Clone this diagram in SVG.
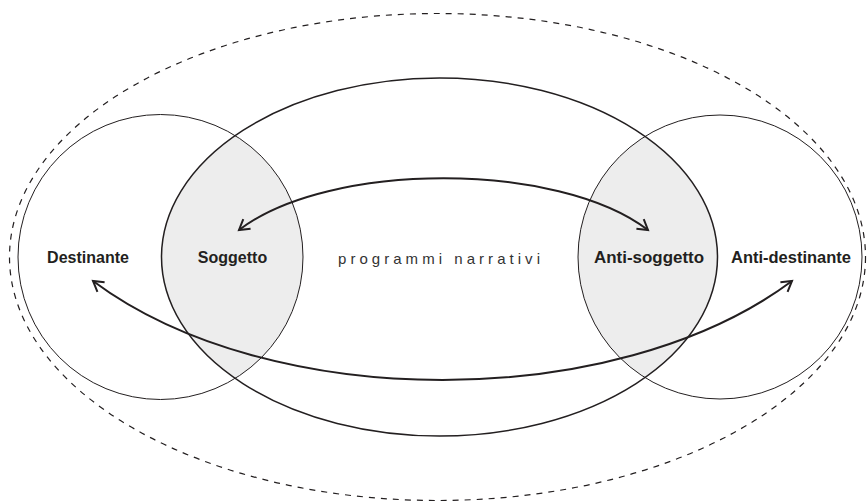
<svg xmlns="http://www.w3.org/2000/svg" width="867" height="502" viewBox="0 0 867 502">
  <style>
    .lbl { font-family: "Liberation Sans", Arial, sans-serif; font-weight: bold; font-size: 16px; fill: #231f20; text-anchor: middle; }
    .pn { font-family: "Liberation Sans", Arial, sans-serif; font-size: 15px; fill: #333333; }
    .outline { fill: none; stroke: #231f20; }
    .conn { fill: none; stroke: #231f20; stroke-width: 2; }
  </style>
  <defs>
    <clipPath id="bigClip">
      <ellipse cx="439.5" cy="257" rx="278" ry="179"/>
    </clipPath>
    <marker id="head" markerUnits="userSpaceOnUse" markerWidth="20" markerHeight="20" refX="0" refY="0" viewBox="-12 -10 14 20" orient="auto-start-reverse" overflow="visible">
      <path d="M-10,-6 L0,0 L-10,6" fill="none" stroke="#231f20" stroke-width="2" stroke-linejoin="miter"/>
    </marker>
  </defs>
  <rect width="867" height="502" fill="#ffffff"/>

  <g id="contesto">
    <ellipse cx="437.5" cy="257" rx="428" ry="243.5" class="outline" stroke-width="1.2" stroke-dasharray="6 6"/>
  </g>

  <g id="soggetto-area">
    <circle cx="160.5" cy="257" r="142.5" fill="#ededed" clip-path="url(#bigClip)"/>
  </g>
  <g id="anti-soggetto-area">
    <circle cx="720" cy="257" r="142" fill="#ededed" clip-path="url(#bigClip)"/>
  </g>

  <g id="destinante">
    <circle cx="160.5" cy="257" r="142.5" class="outline" stroke-width="1"/>
    <text x="88" y="263" class="lbl">Destinante</text>
  </g>
  <g id="anti-destinante">
    <circle cx="720" cy="257" r="142" class="outline" stroke-width="1"/>
    <text x="791" y="263" class="lbl" textLength="120" lengthAdjust="spacingAndGlyphs">Anti-destinante</text>
  </g>
  <g id="programmi-narrativi">
    <ellipse cx="439.5" cy="257" rx="278" ry="179" class="outline" stroke-width="1.5"/>
    <text x="338" y="264" class="pn" textLength="202" lengthAdjust="spacing">programmi narrativi</text>
  </g>
  <g id="soggetto">
    <text x="232.5" y="263" class="lbl">Soggetto</text>
  </g>
  <g id="anti-soggetto">
    <text x="649" y="263" class="lbl" textLength="110" lengthAdjust="spacingAndGlyphs">Anti-soggetto</text>
  </g>

  <g id="connectors">
    <path class="conn" d="M239,230 C329,161 558,161 648,230" marker-start="url(#head)" marker-end="url(#head)"/>
    <path class="conn" d="M93,281 C270,413 615,413 792,281" marker-start="url(#head)" marker-end="url(#head)"/>
  </g>
</svg>
